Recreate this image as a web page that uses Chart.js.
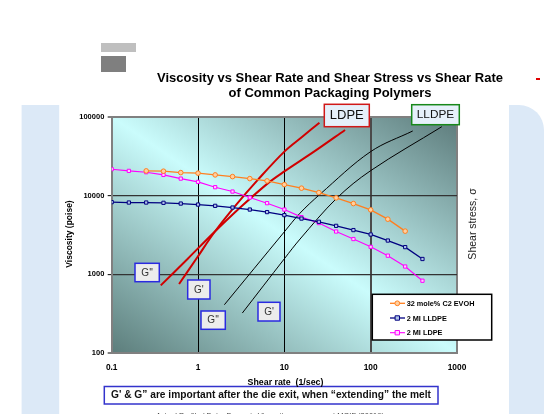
<!DOCTYPE html>
<html>
<head>
<meta charset="utf-8">
<script src="https://cdn.jsdelivr.net/npm/chart.js@4.4.1/dist/chart.umd.min.js"></script>
<style>
  html, body { margin: 0; padding: 0; background: #fff; }
  canvas { display: block; }
</style>
</head>
<body>
<canvas id="chart" width="544" height="414"></canvas>
<script>
const FONT = "'Liberation Sans', Arial, sans-serif";

// shear rate (1/sec) of the measured points
const shearRate = [0.1, 0.158, 0.251, 0.398, 0.631, 1, 1.58, 2.51, 3.98, 6.31, 10, 15.8, 25.1, 39.8, 63.1, 100, 158, 251, 398];
// viscosity (poise)
const lldpeVisc = [8250, 8160, 8160, 8090, 7920, 7690, 7410, 7050, 6650, 6170, 5650, 5110, 4650, 4130, 3650, 3210, 2690, 2220, 1570];
const ldpeVisc = [21600, 20550, 19780, 18280, 16410, 14900, 12770, 11240, 9440, 8010, 6650, 5330, 4480, 3500, 2810, 2240, 1730, 1260, 832];
const evohRate = [0.251, 0.398, 0.631, 1, 1.58, 2.51, 3.98, 6.31, 10, 15.8, 25.1, 39.8, 63.1, 100, 158, 251];
const evohVisc = [20550, 20370, 19550, 19230, 18280, 17400, 16410, 15350, 13770, 12410, 10910, 9350, 7920, 6590, 5020, 3540];

// shear stress curves (G' and G''), read on the same log grid
const ldpeGpRate = [0.603, 0.973, 1.57, 2.76, 4.92, 10, 16.0, 25.5];
const ldpeGp = [755, 1627, 3500, 7620, 15800, 36100, 55300, 84000];
const ldpeGppRate = [0.37, 0.766, 1.57, 3.24, 6.53, 10, 22.7, 50.5];
const ldpeGpp = [726, 1595, 3500, 7410, 14490, 20240, 36800, 67900];
const lldpeGpRate = [3.26, 10, 15.2, 40.5, 100, 667];
const lldpeGp = [324, 1580, 2810, 9270, 20700, 74700];
const lldpeGppRate = [2.02, 10, 15.2, 25.9, 100, 307];
const lldpeGpp = [413, 3470, 5990, 10400, 36100, 65900];

const xTicks = [0.1, 1, 10, 100, 1000];
const yTicks = [100, 1000, 10000, 100000];

function pts(xs, ys) {
  return xs.map((x, i) => ({ x: x, y: ys[i] }));
}

function curve(label, xs, ys, color, width) {
  return {
    label: label,
    data: pts(xs, ys),
    borderColor: color,
    borderWidth: width,
    pointRadius: 0,
    tension: 0.35,
    fill: false,
  };
}

function drawBox(ctx, x, y, w, h, fill, stroke, lw) {
  ctx.fillStyle = fill;
  ctx.fillRect(x, y, w, h);
  ctx.strokeStyle = stroke;
  ctx.lineWidth = lw;
  ctx.strokeRect(x, y, w, h);
}

function drawText(ctx, txt, x, y, font, color, align) {
  ctx.font = font;
  ctx.fillStyle = color;
  ctx.textAlign = align || "center";
  ctx.textBaseline = "middle";
  ctx.fillText(txt, x, y);
}

function drawMarker(ctx, ds, x, y) {
  ctx.strokeStyle = ds.pointBorderColor;
  ctx.fillStyle = ds.pointBackgroundColor;
  ctx.lineWidth = 1;
  ctx.beginPath();
  if (ds.pointStyle === "rect") {
    ctx.rect(x - 2.2, y - 2.2, 4.4, 4.4);
  } else {
    ctx.arc(x, y, 2.4, 0, Math.PI * 2);
  }
  ctx.fill();
  ctx.stroke();
}

const slidePlugin = {
  id: "slide",
  beforeDraw(chart) {
    const ctx = chart.ctx;
    const a = chart.chartArea;
    ctx.save();
    ctx.fillStyle = "#fff";
    ctx.fillRect(0, 0, chart.width, chart.height);

    // light blue side panels of the slide
    ctx.fillStyle = "#dce9f7";
    ctx.fillRect(21.6, 105, 37.6, 320);
    ctx.beginPath();
    ctx.roundRect(509, 105, 35, 330, [0, 25, 0, 0]);
    ctx.fill();

    // grey corner blocks
    ctx.fillStyle = "#bfbfbf";
    ctx.fillRect(101, 43, 35, 9);
    ctx.fillStyle = "#7f7f7f";
    ctx.fillRect(101, 56, 25, 16);
    ctx.fillStyle = "#e00000";
    ctx.fillRect(536, 78, 4, 2);

    // title
    const tf = "bold 13px " + FONT;
    drawText(ctx, "Viscosity vs Shear Rate and Shear Stress vs Shear Rate", 330, 78.3, tf, "#000");
    drawText(ctx, "of Common Packaging Polymers", 330, 93.3, tf, "#000");

    // diagonal gradient behind the plot
    const w = a.right - a.left, h = a.bottom - a.top;
    const cx = (a.left + a.right) / 2, cy = (a.top + a.bottom) / 2;
    const k = (w * h) / (w * w + h * h);
    const g = ctx.createLinearGradient(cx - k * h, cy + k * w, cx + k * h, cy - k * w);
    g.addColorStop(0, "#5c7d7b");
    g.addColorStop(0.5, "#cafcfc");
    g.addColorStop(1, "#5c7a7a");
    ctx.fillStyle = g;
    ctx.fillRect(a.left, a.top, w, h);
    ctx.restore();
  },
  afterDraw(chart) {
    const ctx = chart.ctx;
    ctx.save();

    // axis titles
    ctx.save();
    ctx.translate(70, 234);
    ctx.rotate(-Math.PI / 2);
    drawText(ctx, "Viscosity (poise)", 0, 0, "bold 8.5px " + FONT, "#000");
    ctx.restore();
    ctx.save();
    ctx.translate(473.3, 224);
    ctx.rotate(-Math.PI / 2);
    drawText(ctx, "Shear stress, \u03C3", 0, 0, "10.5px " + FONT, "#222");
    ctx.restore();

    // note box under the chart
    drawBox(ctx, 104.3, 386.5, 333.7, 17.5, "#fff", "#3333cc", 1.5);
    drawText(ctx, "G' & G\u201D are important after the die exit, when \u201Cextending\u201D the melt",
      271, 395.5, "bold 10.2px " + FONT, "#111");
    drawText(ctx, "Shear rate  (1/sec)", 285.5, 382.2, "bold 8.8px " + FONT, "#000");

    // source line, cut by the bottom edge
    drawText(ctx, "Actual Profile / Data: Dynamic Viscosity measurement MOIF (2001?)",
      270, 416, "7.5px " + FONT, "#444");

    // polymer tags
    drawBox(ctx, 324.3, 104.3, 45, 22.4, "#e6f0fa", "#d01818", 1.5);
    drawText(ctx, "LDPE", 346.8, 115.8, "13px " + FONT, "#111");
    drawBox(ctx, 411.7, 104.7, 47.6, 20, "#e6f0fa", "#18881a", 1.5);
    drawText(ctx, "LLDPE", 435.5, 115, "11.8px " + FONT, "#111");

    // G' / G'' tags
    const gTags = [
      ["G''", 135, 263.3, 24.3, 18.4],
      ["G'", 187.7, 280, 22.3, 19],
      ["G''", 201, 311, 24.3, 18.3],
      ["G'", 258, 302.3, 22, 18.7],
    ];
    gTags.forEach((t) => {
      drawBox(ctx, t[1], t[2], t[3], t[4], "#ececec", "#2a2ae0", 1.5);
      drawText(ctx, t[0], t[1] + t[3] / 2, t[2] + t[4] / 2 + 0.5, "10px " + FONT, "#333");
    });

    // legend
    drawBox(ctx, 372.3, 294.3, 119.4, 45.7, "#fff", "#000", 1.5);
    const rows = [303.3, 318, 332.7];
    chart.data.datasets.slice(0, 3).forEach((ds, i) => {
      const y = rows[i];
      ctx.strokeStyle = ds.borderColor;
      ctx.lineWidth = ds.borderWidth;
      ctx.beginPath();
      ctx.moveTo(390, y);
      ctx.lineTo(405, y);
      ctx.stroke();
      drawMarker(ctx, ds, 397.3, y);
      drawText(ctx, ds.label, 406.7, y + 0.5, "bold 7.3px " + FONT, "#000", "left");
    });
    ctx.restore();
  },
};

new Chart(document.getElementById("chart").getContext("2d"), {
  type: "line",
  data: {
    datasets: [
      {
        label: "32 mole% C2 EVOH",
        data: pts(evohRate, evohVisc),
        borderColor: "#ff7f1f",
        borderWidth: 1.3,
        pointStyle: "circle",
        pointRadius: 2.3,
        pointBorderWidth: 1,
        pointBorderColor: "#ff7f1f",
        pointBackgroundColor: "#ffd0a0",
      },
      {
        label: "2 MI LLDPE",
        data: pts(shearRate, lldpeVisc),
        borderColor: "#000080",
        borderWidth: 1.3,
        pointStyle: "rect",
        pointRadius: 2.3,
        pointBorderWidth: 1,
        pointBorderColor: "#000080",
        pointBackgroundColor: "#b0c4e8",
      },
      {
        label: "2 MI LDPE",
        data: pts(shearRate, ldpeVisc),
        borderColor: "#ff00ff",
        borderWidth: 1.1,
        pointStyle: "rect",
        pointRadius: 2.3,
        pointBorderWidth: 1,
        pointBorderColor: "#ff00ff",
        pointBackgroundColor: "#ffd0ff",
      },
      curve("LDPE G'", ldpeGpRate, ldpeGp, "#d00000", 2),
      curve("LDPE G''", ldpeGppRate, ldpeGpp, "#d00000", 2),
      curve("LLDPE G'", lldpeGpRate, lldpeGp, "#000", 1),
      curve("LLDPE G''", lldpeGppRate, lldpeGpp, "#000", 1),
    ],
  },
  options: {
    responsive: false,
    animation: false,
    devicePixelRatio: 1,
    layout: { padding: { left: 0, right: 87, top: 116.7, bottom: 40.7 } },
    plugins: {
      legend: { display: false },
      title: { display: false },
      tooltip: { enabled: false },
    },
    scales: {
      x: {
        type: "logarithmic",
        min: 0.1,
        max: 1000,
        afterBuildTicks: (s) => { s.ticks = xTicks.map((v) => ({ value: v })); },
        afterFit: (s) => { s.height = 20; },
        border: { color: "#808080", width: 2 },
        grid: {
          color: (c) => (c.tick.value === 0.1 || c.tick.value === 1000 ? "#808080" : c.tick.value === 100 ? "#4a4a4a" : "#000"),
          lineWidth: (c) => (c.tick.value === 1 || c.tick.value === 10 ? 1 : 2),
          tickLength: 4,
          tickColor: "rgba(0,0,0,0)",
        },
        ticks: {
          padding: 5,
          color: "#000",
          font: { family: FONT, size: 8.4, weight: "bold" },
          callback: (v) => String(v),
        },
      },
      y: {
        type: "logarithmic",
        min: 100,
        max: 100000,
        afterBuildTicks: (s) => { s.ticks = yTicks.map((v) => ({ value: v })); },
        afterFit: (s) => { s.width = 111.7; },
        border: { color: "#808080", width: 2 },
        grid: {
          color: (c) => (c.tick.value === 100 || c.tick.value === 100000 ? "#808080" : "#333"),
          lineWidth: (c) => (c.tick.value === 100 || c.tick.value === 100000 ? 2 : 1.3),
          tickLength: 4,
          tickColor: "#000",
          tickWidth: 1,
        },
        ticks: {
          padding: 3.4,
          color: "#000",
          font: { family: FONT, size: 7.5, weight: "bold" },
          callback: (v) => String(v),
        },
      },
    },
  },
  plugins: [slidePlugin],
});
</script>
</body>
</html>
